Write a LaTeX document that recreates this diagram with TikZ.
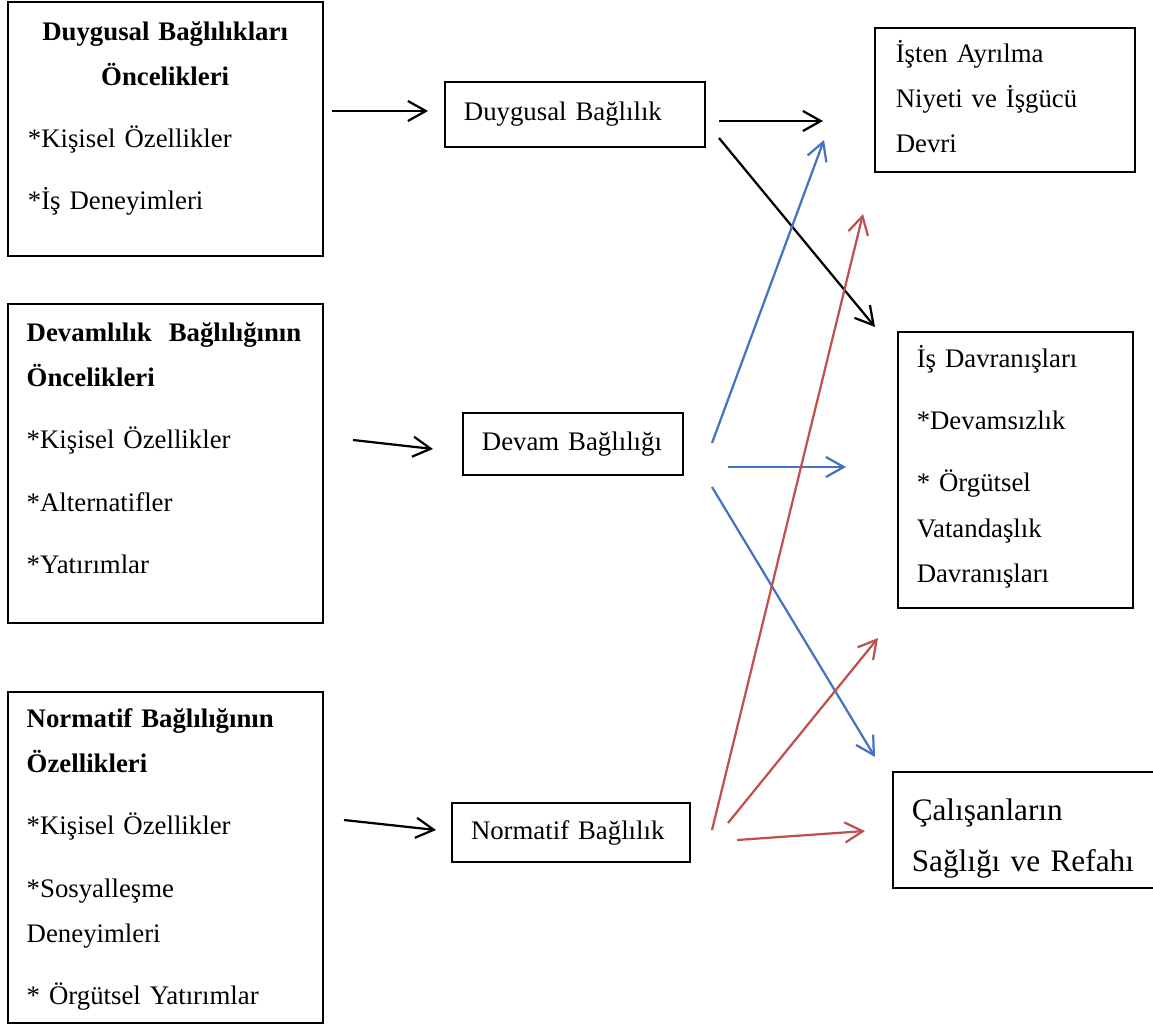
\documentclass[tikz,border=0pt]{standalone}
\usepackage{fontspec}
\setmainfont{Liberation Serif}
\usepackage{tikz}
\usetikzlibrary{arrows.meta, positioning, fit}
\definecolor{okmavi}{RGB}{68,114,196}
\definecolor{okkirmizi}{RGB}{192,80,77}
\setlength{\parindent}{0pt}

\begin{document}
\begin{tikzpicture}[
    x=0.448pt, y=-0.448pt,
    kutu/.style={draw, line width=0.6pt, inner sep=0pt},
    metin/.style={anchor=north west, inner sep=0pt, align=left,
                  font=\fontsize{12}{20.2}\selectfont},
    orta/.style={draw, line width=0.6pt, inner xsep=8.5pt, inner ysep=0pt,
                 align=left, font=\fontsize{12}{14}\selectfont},
    ok/.style={line width=1pt, -{Straight Barb[length=8pt, width=9pt]}}
]
    \useasboundingbox (0,0) rectangle (1153,1025);

    % left column: antecedents
    \node[kutu, fit={(8,2) (323,256)}] (duyOnc) {};
    \node[metin, text width=123pt, below right=3.3pt and 9pt of duyOnc.north west] (duyOncYazi)
        {\strut\hfill\textbf{Duygusal Bağlılıkları}\hfill\null\\
         \hfill\textbf{Öncelikleri}\hfill\null\\[7.6pt]
         *Kişisel Özellikler\\[7.6pt]
         *İş Deneyimleri};

    \node[kutu, fit={(8,304) (323,623)}] (devOnc) {};
    \node[metin, text width=123pt, below right=2.9pt and 8.5pt of devOnc.north west] (devOncYazi)
        {\strut\textbf{Devamlılık\hfill Bağlılığının}\\
         \textbf{Öncelikleri}\\[7.6pt]
         *Kişisel Özellikler\\[7.6pt]
         *Alternatifler\\[7.6pt]
         *Yatırımlar};

    \node[kutu, fit={(8,692) (323,1023)}] (norOnc) {};
    \node[metin, text width=123pt, below right=2pt and 8.5pt of norOnc.north west] (norOncYazi)
        {\strut\textbf{Normatif Bağlılığının}\\
         \textbf{Özellikleri}\\[7.6pt]
         *Kişisel Özellikler\\[7.6pt]
         *Sosyalleşme\\
         Deneyimleri\\[7.6pt]
         * Örgütsel Yatırımlar};

    % middle column: commitment types
    \node[orta, text width=99.5pt, minimum height=29.1pt] (duyB) at (575,114.5) {Duygusal Bağlılık};
    \node[orta, text width=81.6pt, minimum height=27.8pt] (devB) at (573,444) {Devam Bağlılığı};
    \node[orta, text width=89.6pt, minimum height=26.4pt] (norB) at (571,832.5) {Normatif Bağlılık};

    % right column: outcomes
    \node[kutu, fit={(875,28) (1135,172)}] (ayr) {};
    \node[metin, text width=100pt, below right=1.5pt and 9.4pt of ayr.north west] (ayrYazi)
        {\strut İşten Ayrılma\\
         Niyeti ve İşgücü\\
         Devri};

    \node[kutu, fit={(898,332) (1133,608)}] (davr) {};
    \node[metin, text width=95pt, below right=2pt and 8.5pt of davr.north west] (davrYazi)
        {\strut İş Davranışları\\[7.6pt]
         *Devamsızlık\\[7.6pt]
         * Örgütsel\\
         Vatandaşlık\\
         Davranışları};

    \node[kutu, fit={(893,772) (1156,888)}] (refah) {};
    \node[metin, text width=110pt, font=\fontsize{14}{22.8}\selectfont,
          below right=6pt and 8.5pt of refah.north west] (refahYazi)
        {\strut Çalışanların\\
         Sağlığı ve Refahı};

    % free arrow ends
    \coordinate (k1a) at (332,111);  \coordinate (k1b) at (428,111);
    \coordinate (k2a) at (353,440);  \coordinate (k2b) at (433,449);
    \coordinate (k3a) at (344,820);  \coordinate (k3b) at (436,830);
    \coordinate (k4a) at (719,121);  \coordinate (k4b) at (823,121);
    \coordinate (k5a) at (719,138);  \coordinate (k5b) at (875,327);
    \coordinate (m1a) at (712,443);  \coordinate (m1b) at (824,140);
    \coordinate (m2a) at (728,467);  \coordinate (m2b) at (846,467);
    \coordinate (m3a) at (712,487);  \coordinate (m3b) at (875,757);
    \coordinate (r1a) at (712,830);  \coordinate (r1b) at (863,214);
    \coordinate (r2a) at (728,823);  \coordinate (r2b) at (878,638);
    \coordinate (r3a) at (737,840);  \coordinate (r3b) at (865,831);

    \draw[ok] (k1a) -- (k1b);
    \draw[ok] (k2a) -- (k2b);
    \draw[ok] (k3a) -- (k3b);
    \draw[ok] (k4a) -- (k4b);
    \draw[ok] (k5a) -- (k5b);
    \draw[ok, okmavi] (m1a) -- (m1b);
    \draw[ok, okmavi] (m2a) -- (m2b);
    \draw[ok, okmavi] (m3a) -- (m3b);
    \draw[ok, okkirmizi] (r1a) -- (r1b);
    \draw[ok, okkirmizi] (r2a) -- (r2b);
    \draw[ok, okkirmizi] (r3a) -- (r3b);
\end{tikzpicture}
\end{document}
